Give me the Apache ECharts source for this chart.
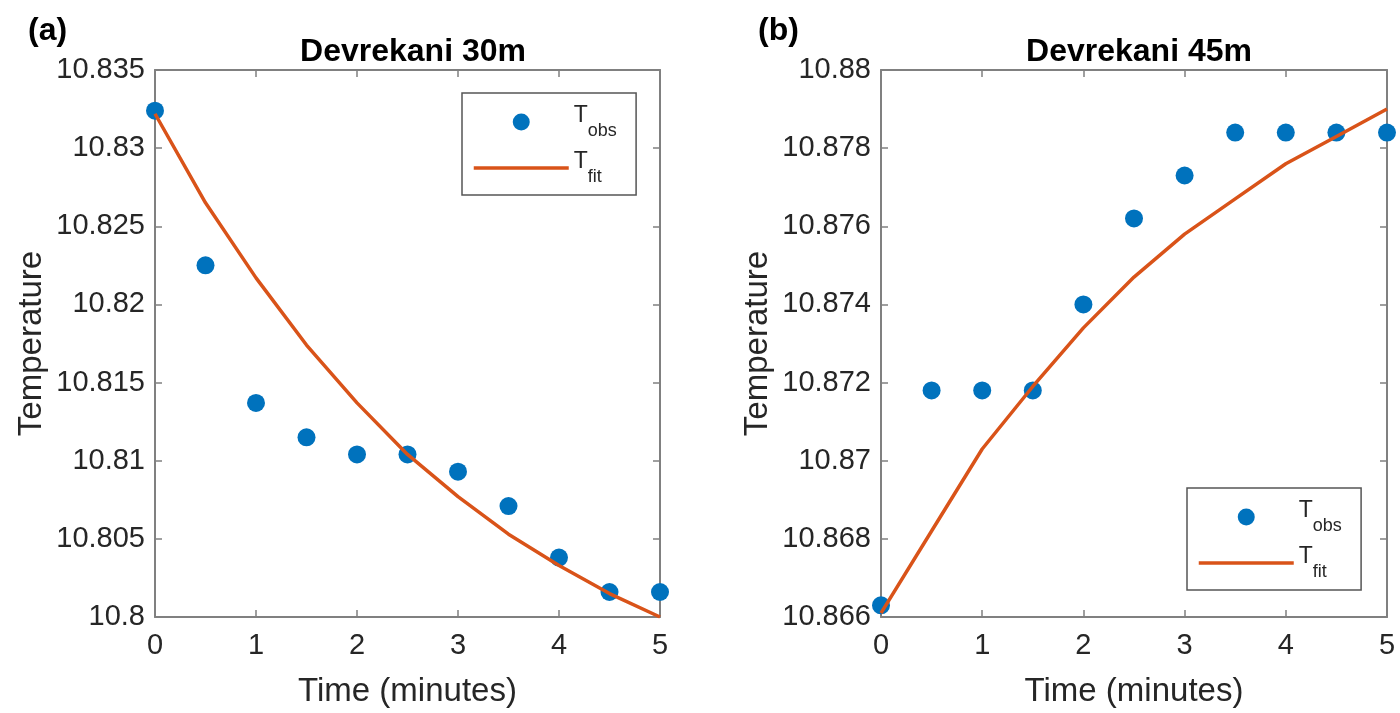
<html>
<head>
<meta charset="UTF-8">
<script src="https://cdn.jsdelivr.net/npm/echarts@6/dist/echarts.min.js"></script>
</head>
<body style="margin:0;background:#fff">
<div id="main" style="width:1400px;height:713px"></div>
<script>
    // time axis (minutes), shared by both panels
    var times = [0, 0.5, 1, 1.5, 2, 2.5, 3, 3.5, 4, 4.5, 5];

    // (a) Devrekani 30m
    var obs30 = [10.8324, 10.8225, 10.8137, 10.8115, 10.8104, 10.8104, 10.8093, 10.8071, 10.8038, 10.8016, 10.8016];
    var fit30 = [10.8322, 10.8265, 10.8217, 10.8174, 10.8137, 10.8104, 10.8077, 10.8053, 10.8033, 10.8015, 10.8000];

    // (b) Devrekani 45m
    var obs45 = [10.8663, 10.8718, 10.8718, 10.8718, 10.8740, 10.8762, 10.8773, 10.8784, 10.8784, 10.8784, 10.8784];
    var fit45 = [10.8661, 10.8682, 10.8703, 10.8719, 10.8734, 10.8747, 10.8758, 10.8767, 10.8776, 10.8783, 10.8790];

    var titles = ['Devrekani 30m', 'Devrekani 45m'];
    var panelTags = ['(a)', '(b)'];

    function pairs(xs, ys) {
        var out = [];
        for (var i = 0; i < xs.length; i++) {
            out.push([xs[i], ys[i]]);
        }
        return out;
    }

    var fontName = 'Liberation Sans, Arial, sans-serif';
    var axisCol = '#808080';
    var txtCol = '#262626';

    var chart = echarts.init(document.getElementById('main'));

    function xAx(gi, pos) {
        var main = pos === 'bottom';
        return {
            type: 'value', gridIndex: gi, position: pos,
            min: 0, max: 5, interval: 1,
            name: main ? 'Time (minutes)' : '',
            nameLocation: 'middle', nameGap: 58,
            nameTextStyle: {fontFamily: fontName, fontSize: 33, color: txtCol},
            axisLine: {show: true, onZero: false, lineStyle: {color: axisCol, width: 2}},
            axisTick: {show: true, inside: true, length: 7, lineStyle: {color: axisCol, width: 1.5}},
            axisLabel: {show: main, margin: 14, fontFamily: fontName, fontSize: 29, color: txtCol},
            splitLine: {show: false}
        };
    }

    function yAx(gi, pos, min, max, step) {
        var main = pos === 'left';
        return {
            type: 'value', gridIndex: gi, position: pos,
            min: min, max: max, interval: step,
            name: main ? 'Temperature' : '',
            nameLocation: 'middle', nameGap: 107,
            nameTextStyle: {fontFamily: fontName, fontSize: 33, color: txtCol},
            axisLine: {show: true, onZero: false, lineStyle: {color: axisCol, width: 2}},
            axisTick: {show: true, inside: true, length: 7, lineStyle: {color: axisCol, width: 1.5}},
            axisLabel: {
                show: main, margin: 10, fontFamily: fontName, fontSize: 29, color: txtCol,
                formatter: function (v) { return String(+v.toFixed(3)); }
            },
            splitLine: {show: false}
        };
    }

    // T with a lowered subscript; z is an empty spacer that sets the row height
    var legendRich = {
        t: {fontFamily: fontName, fontSize: 23, color: txtCol, verticalAlign: 'top', lineHeight: 24},
        s: {fontFamily: fontName, fontSize: 18, color: txtCol, verticalAlign: 'bottom', lineHeight: 18},
        z: {fontSize: 1, lineHeight: 36}
    };
    function legendFmt(name) {
        return name.trim() === 'Tobs' ? '{t|T}{s|obs}{z| }' : '{t|T}{s|fit}{z| }';
    }
    function makeLegend(left, top, names) {
        return {
            data: [
                {name: names[0], icon: 'circle'},
                {
                    name: names[1],
                    itemStyle: {color: 'rgba(0,0,0,0)', borderWidth: 0},
                    lineStyle: {color: '#D95319', width: 3.5}
                }
            ],
            orient: 'vertical', left: left, top: top,
            itemWidth: 95, itemHeight: 17, itemGap: 10,
            padding: [11, 19, 9, 10],
            borderColor: '#555', borderWidth: 1.5,
            backgroundColor: '#fff',
            formatter: legendFmt,
            textStyle: {rich: legendRich}
        };
    }

    var bold = {fontFamily: fontName, fontSize: 32, fontWeight: 'bold', color: '#000'};

    var option = {
        animation: false,
        backgroundColor: '#fff',
        title: [
            {text: panelTags[0], left: 23, top: 10, textStyle: bold},
            {text: panelTags[1], left: 753, top: 10, textStyle: bold},
            {text: titles[0], left: 408, top: 31, textAlign: 'center', textStyle: bold},
            {text: titles[1], left: 1134, top: 31, textAlign: 'center', textStyle: bold}
        ],
        legend: [
            makeLegend(462, 93, ['Tobs', 'Tfit']),
            makeLegend(1187, 488, ['Tobs ', 'Tfit '])
        ],
        grid: [
            {left: 155, right: 740, top: 70, bottom: 96, show: false},
            {left: 881, right: 13, top: 70, bottom: 96, show: false}
        ],
        xAxis: [xAx(0, 'bottom'), xAx(0, 'top'), xAx(1, 'bottom'), xAx(1, 'top')],
        yAxis: [
            yAx(0, 'left', 10.8, 10.835, 0.005),
            yAx(0, 'right', 10.8, 10.835, 0.005),
            yAx(1, 'left', 10.866, 10.88, 0.002),
            yAx(1, 'right', 10.866, 10.88, 0.002)
        ],
        series: [
            {
                name: 'Tobs', type: 'scatter', xAxisIndex: 0, yAxisIndex: 0,
                data: pairs(times, obs30), symbolSize: 18, z: 3,
                itemStyle: {color: '#0072BD', opacity: 1}
            },
            {
                name: 'Tfit', type: 'line', xAxisIndex: 0, yAxisIndex: 0,
                data: pairs(times, fit30), symbol: 'none', z: 4,
                lineStyle: {color: '#D95319', width: 3.5}, itemStyle: {color: '#D95319'}
            },
            {
                name: 'Tobs ', type: 'scatter', xAxisIndex: 2, yAxisIndex: 2,
                data: pairs(times, obs45), symbolSize: 18, z: 3,
                itemStyle: {color: '#0072BD', opacity: 1}
            },
            {
                name: 'Tfit ', type: 'line', xAxisIndex: 2, yAxisIndex: 2,
                data: pairs(times, fit45), symbol: 'none', z: 4,
                lineStyle: {color: '#D95319', width: 3.5}, itemStyle: {color: '#D95319'}
            }
        ]
    };
    chart.setOption(option);
</script>
</body>
</html>
